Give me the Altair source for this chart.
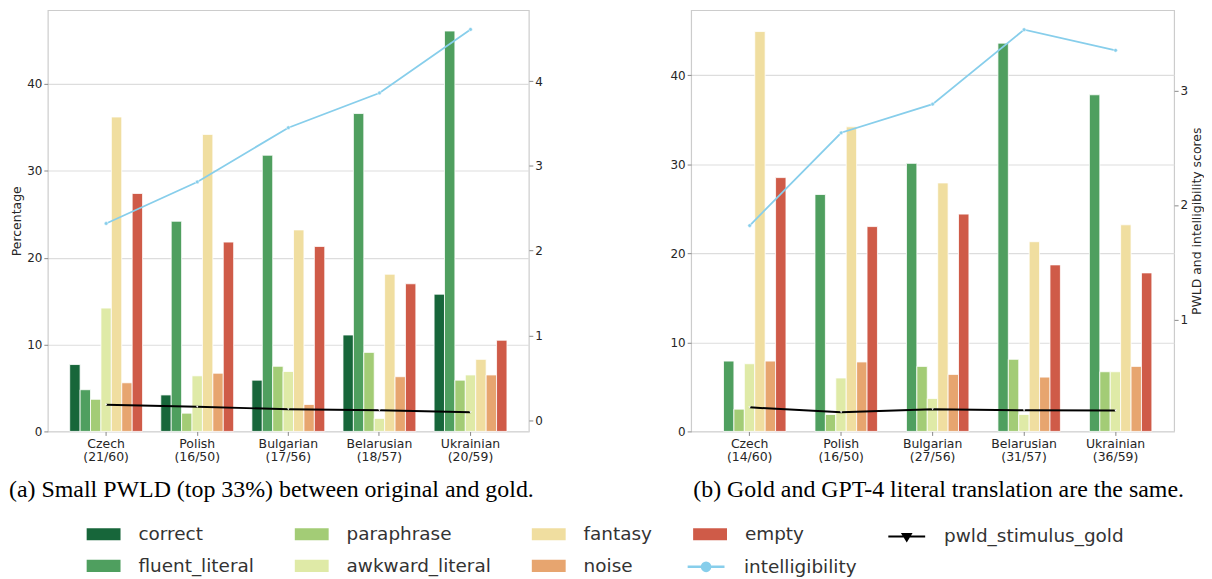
import altair as alt
import pandas as pd

languages = ["Czech", "Polish", "Bulgarian", "Belarusian", "Ukrainian"]
counts_a = ["21/60", "16/50", "17/56", "18/57", "20/59"]
counts_b = ["14/60", "16/50", "27/56", "31/57", "36/59"]

categories = ["correct", "fluent_literal", "paraphrase", "awkward_literal", "fantasy", "noise", "empty"]
colors = ["#17663a", "#4f9f5f", "#a3cc76", "#dfeaa7", "#f0dea0", "#e7a56f", "#cf5b48"]

# panel (a)
correct_a = [7.7, 4.2, 5.9, 11.1, 15.8]
fluent_a = [4.8, 24.2, 31.8, 36.6, 46.1]
paraphrase_a = [3.7, 2.1, 7.5, 9.1, 5.9]
awkward_a = [14.2, 6.4, 6.9, 1.5, 6.5]
fantasy_a = [36.2, 34.2, 23.2, 18.1, 8.3]
noise_a = [5.6, 6.7, 3.1, 6.3, 6.5]
empty_a = [27.4, 21.8, 21.3, 17.0, 10.5]
intel_a = [2.32, 2.81, 3.45, 3.86, 4.61]
pwld_a = [0.18, 0.156, 0.128, 0.116, 0.093]

# panel (b) (no "correct" answers)
fluent_b = [7.9, 26.6, 30.1, 43.6, 37.8]
paraphrase_b = [2.5, 1.9, 7.3, 8.1, 6.7]
awkward_b = [7.6, 6.0, 3.7, 1.9, 6.7]
fantasy_b = [44.9, 34.2, 27.9, 21.3, 23.2]
noise_b = [7.9, 7.8, 6.4, 6.1, 7.3]
empty_b = [28.5, 23.0, 24.4, 18.7, 17.8]
intel_b = [1.82, 2.63, 2.88, 3.53, 3.35]
pwld_b = [0.233, 0.19, 0.216, 0.207, 0.205]

caption_a = "(a) Small PWLD (top 33%) between original and gold."
caption_b = "(b) Gold and GPT-4 literal translation are the same."

FONT = "DejaVu Sans"
TXT = "#262626"


def labels_for(counts):
    return [f"{l}\n({c})" for l, c in zip(languages, counts)]


def bar_frame(counts, series):
    labs = labels_for(counts)
    rows = []
    for cat, vals in series.items():
        for lab, v in zip(labs, vals):
            rows.append({"label": lab, "category": cat, "value": v})
    return pd.DataFrame(rows)


def line_frame(counts, vals, name):
    return pd.DataFrame({"label": labels_for(counts), "series": name, "score": vals})


RECT = "M-1,-0.36H1V0.36H-1Z"
LINE_DOT = "M-1,0H1M-0.22,0A0.22,0.22,0,1,1,0.22,0A0.22,0.22,0,1,1,-0.22,0Z"
LINE_TRI = "M-1,0H1M-0.22,-0.14H0.22L0,0.22Z"

leg_common = dict(title=None, orient="none", labelFont=FONT, labelFontSize=18.5,
                  labelColor="#333333", labelOffset=18, labelLimit=400)

leg_fill = alt.Legend(values=categories, columns=4, legendX=39, legendY=509,
                      symbolType=RECT, symbolSize=1156, symbolStrokeWidth=0,
                      columnPadding=41, rowPadding=5, **leg_common)
leg_intel = alt.Legend(legendX=641, legendY=539, symbolType=LINE_DOT, symbolSize=1369,
                       symbolStrokeWidth=2.5, symbolFillColor="#87ceeb",
                       symbolStrokeColor="#87ceeb", **leg_common)
leg_pwld = alt.Legend(legendX=843, legendY=509, symbolType=LINE_TRI, symbolSize=1369,
                      symbolStrokeWidth=2, symbolFillColor="black",
                      symbolStrokeColor="black", **leg_common)


def panel(bars_df, intel_df, pwld_df, counts, order, ydom, y2dom, y2vals,
          ytitle, y2title, width, caption, cap_dx):
    labs = labels_for(counts)
    xaxis = alt.Axis(title=None, labelExpr="split(datum.label, '\\n')", labelAngle=0,
                     labelPadding=2, tickSize=4, labelLineHeight=13.5, labelFontSize=12.5)
    xenc = alt.X("label:N", sort=labs, axis=xaxis,
                 scale=alt.Scale(paddingInner=0.2, paddingOuter=0.24))

    if ytitle:
        yaxis = alt.Axis(values=[0, 10, 20, 30, 40], title=ytitle, grid=True,
                         minExtent=22, maxExtent=22, titlePadding=2)
    else:
        yaxis = alt.Axis(values=[0, 10, 20, 30, 40], title=None, grid=True)

    bars = alt.Chart(bars_df).mark_bar(stroke="white", strokeWidth=0.8).encode(
        x=xenc,
        xOffset=alt.XOffset("category:N", sort=order,
                            scale=alt.Scale(paddingInner=0, paddingOuter=0)),
        y=alt.Y("value:Q", scale=alt.Scale(domain=ydom, nice=False, zero=False), axis=yaxis),
        fill=alt.Fill("category:N", scale=alt.Scale(domain=categories, range=colors),
                      legend=leg_fill),
    )

    if y2title:
        y2axis = alt.Axis(values=y2vals, title=y2title, grid=False, orient="right",
                          titleAngle=270, titleBaseline="top", titlePadding=3,
                          labelPadding=2, tickSize=4)
    else:
        y2axis = alt.Axis(values=y2vals, title=None, grid=False, orient="right",
                          labelPadding=2, tickSize=4)
    y2scale = alt.Scale(domain=y2dom, nice=False, zero=False)

    intel_line = alt.Chart(intel_df).mark_line(strokeWidth=1.8).encode(
        x=xenc,
        y=alt.Y("score:Q", scale=y2scale, axis=y2axis),
        stroke=alt.Stroke("series:N", scale=alt.Scale(domain=["intelligibility"],
                                                      range=["#87ceeb"]), legend=leg_intel),
    )
    intel_pts = alt.Chart(intel_df).mark_circle(size=14, color="#87ceeb", opacity=1,
                                                stroke="white", strokeWidth=0.5).encode(
        x=xenc, y=alt.Y("score:Q", scale=y2scale, axis=y2axis),
    )
    pwld_line = alt.Chart(pwld_df).mark_line(strokeWidth=2, color="black").encode(
        x=xenc,
        y=alt.Y("score:Q", scale=y2scale, axis=y2axis),
        opacity=alt.Opacity("series:N", scale=alt.Scale(domain=["pwld_stimulus_gold"],
                                                        range=[1]), legend=leg_pwld),
    )
    pwld_pts = alt.Chart(pwld_df).mark_point(shape="triangle-down", filled=True, size=6,
                                             color="white", opacity=1).encode(
        x=xenc, y=alt.Y("score:Q", scale=y2scale, axis=y2axis),
    )
    lines = alt.layer(intel_line, intel_pts, pwld_line, pwld_pts)

    return alt.layer(bars, lines).resolve_scale(y="independent").properties(
        width=width, height=423,
        title=alt.TitleParams(caption, orient="bottom", anchor="middle",
                              font="Liberation Serif", fontSize=24, fontWeight="normal",
                              color="black", offset=15, dx=cap_dx),
    )


bars_a = bar_frame(counts_a, {
    "correct": correct_a, "fluent_literal": fluent_a, "paraphrase": paraphrase_a,
    "awkward_literal": awkward_a, "fantasy": fantasy_a, "noise": noise_a, "empty": empty_a})
bars_b = bar_frame(counts_b, {
    "fluent_literal": fluent_b, "paraphrase": paraphrase_b,
    "awkward_literal": awkward_b, "fantasy": fantasy_b, "noise": noise_b, "empty": empty_b})

left = panel(bars_a, line_frame(counts_a, intel_a, "intelligibility"),
             line_frame(counts_a, pwld_a, "pwld_stimulus_gold"), counts_a, categories,
             [0, 48.5], [-0.134, 4.837], [0, 1, 2, 3, 4], "Percentage", None, 483,
             caption_a, -17)
right = panel(bars_b, line_frame(counts_b, intel_b, "intelligibility"),
              line_frame(counts_b, pwld_b, "pwld_stimulus_gold"), counts_b, categories[1:],
              [0, 47.3], [0.023, 3.70], [1, 2, 3], None, "PWLD and intelligibility scores",
              485, caption_b, 6)

chart = alt.hconcat(left, right, spacing=163, bounds="flush").properties(
    padding=0
).configure_view(
    stroke="#cccccc", strokeWidth=1.2
).configure_axis(
    labelFont=FONT, labelFontSize=12, labelColor=TXT, titleFont=FONT, titleFontSize=12.5,
    titleColor=TXT, titleFontWeight="normal", tickColor="#888888", tickSize=4,
    domain=False, gridColor="#dddddd", gridWidth=1.1
)

chart.save("out.html", embed_options={"renderer": "svg", "actions": False})
